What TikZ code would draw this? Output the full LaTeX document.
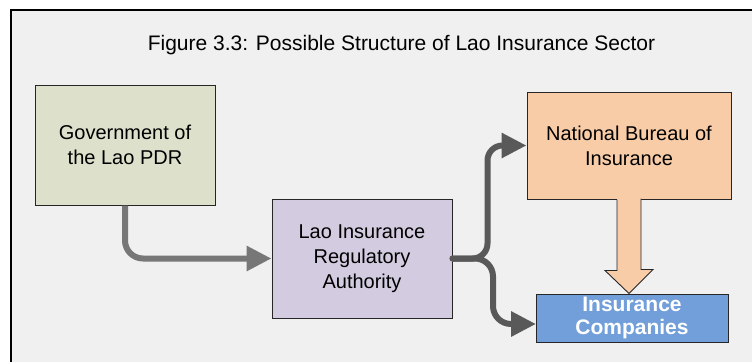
\documentclass[tikz,border=0pt]{standalone}
\usepackage{fontspec}
\setmainfont{Liberation Sans}
\usetikzlibrary{arrows.meta}
\definecolor{bgc}{HTML}{F0F0F0}
\definecolor{govc}{HTML}{DDE1CB}
\definecolor{lirac}{HTML}{D3CCE0}
\definecolor{nbic}{HTML}{F9CCA8}
\definecolor{icc}{HTML}{729FDA}
\definecolor{lightconn}{HTML}{777777}
\definecolor{darkconn}{HTML}{595959}
\begin{document}
\begin{tikzpicture}[x=1pt,y=-1pt,
  box/.style={draw=black!85, line width=1pt, inner sep=0pt, align=center,
    font=\fontsize{20}{25}\selectfont},
  conn/.style={line width=6pt, rounded corners=18pt,
    -{Triangle[length=25pt,width=24pt]}},
  blockarrow/.style={draw=black!85, line width=0.9pt, line join=miter}]
\useasboundingbox (0,0) rectangle (752,362);
\fill[white] (0,0) rectangle (752,362);
\fill[bgc] (11,10) rectangle (752,362);
\draw[line width=2pt] (11,362) -- (11,10) -- (753,10);
\node[anchor=base, font=\fontsize{21}{25}\selectfont] (title) at (401.5,50)
  {Figure 3.3: Possible Structure of Lao Insurance Sector};
\node[box, fill=govc, minimum width=180pt, minimum height=120pt] (gov) at (125,145)
  {Government of\\the Lao PDR};
\node[box, fill=lirac, minimum width=180pt, minimum height=119pt] (lira) at (362,258.5)
  {Lao Insurance\\Regulatory\\Authority};
\node[box, fill=nbic, minimum width=204pt, minimum height=107pt] (nbi) at (629,145.5)
  {National Bureau of\\Insurance};
\node[box, fill=icc, minimum width=192pt, minimum height=48pt, text=white,
  font=\fontsize{21}{23}\selectfont\bfseries] (ic) at (632,318)
  {Insurance\\Companies};
% block arrow from NBI to IC
\fill[nbic] ([xshift=-12pt,yshift=1.5pt]nbi.south) -- ++(0,72.5) -- ++(-12,0)
  -- (nbi.south |- ic.north) -- ++(24,-24) -- ++(-12,0) -- ++(0,-72.5) -- cycle;
\draw[blockarrow] ([xshift=-12pt]nbi.south) -- ++(0,71) -- ++(-12,0)
  -- (nbi.south |- ic.north) -- ++(24,-24) -- ++(-12,0) -- ++(0,-71);
% connectors
\draw[conn, draw=lightconn] (gov.south) |- (lira.west);
\draw[conn, draw=darkconn, line cap=round, rounded corners=15pt]
  (lira.east) -| ([xshift=-39pt]nbi.west) -- (nbi.west);
\coordinate (icin) at (536,324);
\draw[conn, draw=darkconn, line cap=round] (lira.east) -| ([xshift=-43pt]icin) -- (icin);
\end{tikzpicture}
\end{document}
